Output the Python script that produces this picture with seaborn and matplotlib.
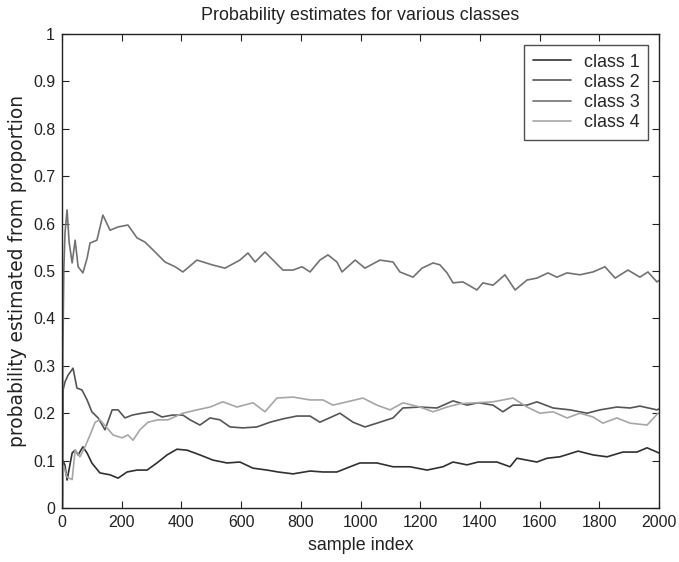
import numpy as np
import pandas as pd
import matplotlib
matplotlib.use("Agg")
import matplotlib.pyplot as plt
import seaborn as sns

# ---- data ----
c1_x = [1, 3, 10, 17, 34, 44, 54, 70, 84, 100, 127, 161, 188, 218, 251, 285, 318, 352, 385, 419,
        462, 506, 553, 596, 640, 687, 724, 774, 831, 874, 921, 965, 998, 1055, 1109, 1166, 1223,
        1276, 1310, 1357, 1394, 1457, 1501, 1524, 1591, 1625, 1668, 1729, 1779, 1826, 1879,
        1926, 1960, 1993, 2000]
c1_y = [0.0, 0.10, 0.09, 0.059, 0.116, 0.122, 0.112, 0.129, 0.116, 0.095, 0.074, 0.070, 0.063,
        0.076, 0.080, 0.080, 0.095, 0.112, 0.124, 0.122, 0.112, 0.101, 0.095, 0.097, 0.084,
        0.080, 0.076, 0.072, 0.078, 0.076, 0.076, 0.087, 0.095, 0.095, 0.087, 0.087, 0.080,
        0.087, 0.097, 0.091, 0.097, 0.097, 0.087, 0.105, 0.097, 0.105, 0.108, 0.120, 0.112,
        0.108, 0.118, 0.118, 0.127, 0.118, 0.116]

c2_x = [1, 4, 10, 20, 37, 50, 67, 84, 100, 121, 144, 168, 188, 211, 235, 268, 302, 335, 369,
        405, 429, 462, 496, 529, 563, 606, 653, 697, 740, 787, 831, 864, 931, 975, 1015, 1065,
        1109, 1142, 1199, 1256, 1310, 1357, 1394, 1444, 1477, 1511, 1558, 1591, 1645, 1702,
        1759, 1802, 1859, 1903, 1936, 1993, 2000]
c2_y = [0.0, 0.25, 0.266, 0.28, 0.295, 0.253, 0.249, 0.228, 0.203, 0.190, 0.165, 0.207, 0.207,
        0.190, 0.196, 0.200, 0.203, 0.192, 0.196, 0.196, 0.186, 0.175, 0.190, 0.186, 0.171,
        0.169, 0.171, 0.181, 0.188, 0.194, 0.194, 0.181, 0.200, 0.181, 0.171, 0.181, 0.190,
        0.211, 0.213, 0.211, 0.226, 0.217, 0.222, 0.217, 0.203, 0.217, 0.217, 0.224, 0.211,
        0.207, 0.200, 0.207, 0.213, 0.211, 0.215, 0.207, 0.209]

c3_x = [1, 3, 6, 10, 17, 24, 34, 44, 54, 70, 84, 94, 117, 137, 161, 188, 221, 251, 278, 312,
        345, 379, 405, 452, 503, 546, 596, 623, 647, 680, 707, 740, 774, 804, 831, 864, 891,
        921, 938, 982, 1015, 1065, 1109, 1132, 1176, 1206, 1243, 1266, 1290, 1310, 1343, 1390,
        1410, 1444, 1484, 1518, 1558, 1591, 1628, 1658, 1692, 1735, 1779, 1819, 1853, 1896,
        1936, 1963, 1993, 2000]
c3_y = [0.0, 0.33, 0.50, 0.58, 0.629, 0.56, 0.517, 0.565, 0.509, 0.496, 0.527, 0.559, 0.565,
        0.618, 0.586, 0.593, 0.597, 0.570, 0.561, 0.540, 0.519, 0.509, 0.498, 0.523, 0.513,
        0.506, 0.523, 0.538, 0.519, 0.540, 0.523, 0.502, 0.502, 0.509, 0.498, 0.523, 0.534,
        0.519, 0.498, 0.523, 0.506, 0.523, 0.519, 0.498, 0.487, 0.506, 0.517, 0.513, 0.496,
        0.475, 0.477, 0.460, 0.475, 0.470, 0.492, 0.460, 0.481, 0.485, 0.496, 0.487, 0.496,
        0.492, 0.498, 0.509, 0.485, 0.502, 0.487, 0.498, 0.477, 0.480]

c4_x = [1, 5, 17, 34, 44, 60, 77, 94, 111, 127, 151, 171, 201, 221, 238, 261, 288, 322, 355,
        405, 452, 496, 539, 586, 640, 680, 720, 774, 831, 874, 908, 955, 1008, 1055, 1099,
        1142, 1199, 1243, 1290, 1333, 1390, 1444, 1511, 1558, 1601, 1645, 1692, 1735, 1779,
        1812, 1859, 1903, 1960, 1997]
c4_y = [0.0, 0.09, 0.065, 0.06, 0.122, 0.108, 0.129, 0.154, 0.181, 0.186, 0.169, 0.154, 0.148,
        0.154, 0.143, 0.165, 0.181, 0.186, 0.186, 0.200, 0.207, 0.213, 0.224, 0.213, 0.222,
        0.203, 0.232, 0.234, 0.228, 0.228, 0.217, 0.224, 0.232, 0.217, 0.207, 0.222, 0.213,
        0.203, 0.213, 0.220, 0.222, 0.224, 0.232, 0.213, 0.200, 0.203, 0.190, 0.200, 0.192,
        0.179, 0.190, 0.179, 0.175, 0.200]

labels = ["class 1", "class 2", "class 3", "class 4"]
colors = ["#303030", "#555555", "#727272", "#a6a6a6"]
xtick_vals = [0, 200, 400, 600, 800, 1000, 1200, 1400, 1600, 1800, 2000]
ytick_vals = [0, 0.1, 0.2, 0.3, 0.4, 0.5, 0.6, 0.7, 0.8, 0.9, 1]
ytick_text = ["0", "0.1", "0.2", "0.3", "0.4", "0.5", "0.6", "0.7", "0.8", "0.9", "1"]

frames = []
for lab, xs, ys in zip(labels, [c1_x, c2_x, c3_x, c4_x], [c1_y, c2_y, c3_y, c4_y]):
    frames.append(pd.DataFrame({"sample": xs, "p": ys, "cls": lab}))
df = pd.concat(frames, ignore_index=True)

sns.set_style("white")
plt.rcParams["font.family"] = ["Liberation Sans", "DejaVu Sans"]
ink = "#222222"

fig = plt.figure(figsize=(6.79, 5.62), dpi=100)
ax = fig.add_axes([62 / 679, 1 - 508 / 562, (659 - 62) / 679, (508 - 34) / 562])

sns.lineplot(data=df, x="sample", y="p", hue="cls", palette=dict(zip(labels, colors)),
             estimator=None, sort=False, linewidth=1.2, ax=ax)

ax.set_xlim(0, 2000)
ax.set_ylim(0, 1)
ax.set_xticks(xtick_vals)
ax.set_xticklabels([str(v) for v in xtick_vals])
ax.set_yticks(ytick_vals)
ax.set_yticklabels(ytick_text)
ax.tick_params(direction="in", length=5, width=0.8, top=True, right=True,
               bottom=True, left=True, labelsize=11.4, colors=ink, pad=5)
for s in ax.spines.values():
    s.set_visible(True)
    s.set_color(ink)
    s.set_linewidth(1.0)

ax.set_xlabel("sample index", fontsize=12.9, color=ink, labelpad=5)
ax.set_ylabel("probability estimated from proportion", fontsize=13.4,
              family=["DejaVu Sans"], color=ink, labelpad=4)
ax.set_title("Probability estimates for various classes", fontsize=12.9, color=ink, pad=10)

handles, labs = ax.get_legend_handles_labels()
leg = ax.legend(handles, labs, loc="upper right", fontsize=12.9, frameon=True, fancybox=False,
                edgecolor=ink, handlelength=2.1, borderpad=0.5, labelspacing=0.17,
                handletextpad=0.7, borderaxespad=0.6, title=None)
leg.get_frame().set_linewidth(1.0)

fig.savefig("out.png", dpi=100)
